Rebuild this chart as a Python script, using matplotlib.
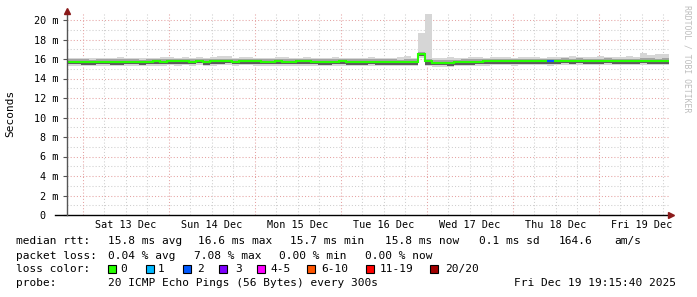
import matplotlib
matplotlib.use("Agg")
import matplotlib.pyplot as plt
import numpy as np

W, H = 697, 297
DPI = 100

# ---------------- data (2-hour blocks over 7 days) ----------------
block_hours = 2
first_midnight_h = 4.33          # hours from graph start to Sat 13 Dec 00:00
day_labels = ["Sat 13 Dec", "Sun 14 Dec", "Mon 15 Dec", "Tue 16 Dec",
              "Wed 17 Dec", "Thu 18 Dec", "Fri 19 Dec"]

median_ms = [
    15.70, 15.70, 15.72, 15.65, 15.70, 15.70, 15.68, 15.68, 15.70, 15.70, 15.65, 15.70,
    15.75, 15.70, 15.82, 15.75, 15.78, 15.72, 15.82, 15.68, 15.75, 15.78, 15.82, 15.72,
    15.78, 15.82, 15.75, 15.72, 15.70, 15.75, 15.72, 15.72, 15.75, 15.75, 15.72, 15.70,
    15.70, 15.72, 15.75, 15.70, 15.68, 15.70, 15.72, 15.70, 15.68, 15.70, 15.65, 15.68,
    15.68, 16.50, 15.75, 15.62, 15.62, 15.60, 15.65, 15.68, 15.68, 15.72, 15.75, 15.78,
    15.80, 15.78, 15.75, 15.82, 15.80, 15.78, 15.80, 15.75, 15.80, 15.82, 15.80, 15.82,
    15.80, 15.80, 15.78, 15.82, 15.80, 15.78, 15.80, 15.80, 15.82, 15.80, 15.78, 15.80,
]
ping_max_ms = [
    16.10, 16.15, 16.12, 16.15, 16.15, 16.10, 16.15, 16.20, 16.15, 16.12, 16.15, 16.10,
    16.15, 16.20, 16.25, 16.15, 16.20, 16.15, 16.25, 16.15, 16.20, 16.30, 16.35, 16.15,
    16.25, 16.20, 16.15, 16.15, 16.12, 16.20, 16.25, 16.15, 16.15, 16.20, 16.15, 16.12,
    16.15, 16.20, 16.15, 16.15, 16.12, 16.15, 16.20, 16.15, 16.12, 16.15, 16.20, 16.30,
    16.15, 18.70, 20.60, 16.10, 16.15, 16.20, 16.15, 16.15, 16.20, 16.25, 16.15, 16.20,
    16.25, 16.20, 16.15, 16.20, 16.25, 16.20, 16.15, 16.20, 16.25, 16.20, 16.30, 16.25,
    16.20, 16.25, 16.35, 16.20, 16.20, 16.25, 16.30, 16.25, 16.60, 16.45, 16.50, 16.50,
]
ping_min_ms = [
    15.30, 15.30, 15.25, 15.30, 15.30, 15.30, 15.25, 15.25, 15.30, 15.30, 15.25, 15.30,
    15.30, 15.30, 15.35, 15.30, 15.35, 15.30, 15.35, 15.25, 15.30, 15.35, 15.35, 15.30,
    15.35, 15.35, 15.30, 15.30, 15.30, 15.30, 15.30, 15.30, 15.30, 15.30, 15.30, 15.25,
    15.30, 15.30, 15.30, 15.30, 15.25, 15.30, 15.30, 15.30, 15.25, 15.30, 15.25, 15.25,
    15.25, 16.10, 15.25, 15.20, 15.20, 15.20, 15.25, 15.25, 15.25, 15.30, 15.30, 15.35,
    15.35, 15.35, 15.30, 15.35, 15.35, 15.35, 15.35, 15.30, 15.35, 15.35, 15.35, 15.35,
    15.35, 15.35, 15.35, 15.35, 15.35, 15.35, 15.35, 15.35, 15.35, 15.35, 15.35, 15.35,
]
ping_q_hi_ms = [
    15.95, 15.95, 15.97, 15.93, 15.95, 15.95, 15.95, 15.95, 15.95, 15.97, 15.93, 15.95,
    16.00, 15.97, 16.05, 16.00, 16.02, 15.97, 16.05, 15.95, 16.00, 16.02, 16.05, 15.97,
    16.02, 16.05, 16.00, 15.97, 15.97, 16.00, 15.97, 15.97, 16.00, 16.00, 15.97, 15.95,
    15.95, 15.97, 16.00, 15.95, 15.95, 15.95, 15.97, 15.95, 15.95, 15.95, 15.93, 15.95,
    15.95, 16.75, 16.05, 15.90, 15.90, 15.87, 15.93, 15.95, 15.95, 15.97, 16.00, 16.02,
    16.05, 16.02, 16.00, 16.05, 16.05, 16.02, 16.05, 16.00, 16.05, 16.07, 16.05, 16.07,
    16.05, 16.05, 16.02, 16.07, 16.05, 16.02, 16.05, 16.05, 16.10, 16.07, 16.05, 16.10,
]
ping_q_lo_ms = [
    15.45, 15.45, 15.43, 15.41, 15.45, 15.45, 15.43, 15.43, 15.45, 15.45, 15.41, 15.45,
    15.48, 15.45, 15.53, 15.48, 15.51, 15.45, 15.55, 15.43, 15.48, 15.51, 15.55, 15.45,
    15.51, 15.53, 15.48, 15.45, 15.45, 15.48, 15.45, 15.45, 15.48, 15.48, 15.45, 15.43,
    15.43, 15.45, 15.48, 15.43, 15.41, 15.43, 15.45, 15.43, 15.41, 15.43, 15.38, 15.41,
    15.41, 16.30, 15.40, 15.35, 15.35, 15.33, 15.38, 15.41, 15.41, 15.45, 15.48, 15.51,
    15.53, 15.51, 15.48, 15.53, 15.53, 15.51, 15.53, 15.48, 15.53, 15.55, 15.53, 15.55,
    15.53, 15.53, 15.51, 15.55, 15.53, 15.51, 15.53, 15.53, 15.55, 15.53, 15.51, 15.53,
]
loss_count = [
    0, 0, 0, 0, 0, 0, 0, 0, 0, 0, 0, 0,
    0, 0, 0, 0, 0, 0, 0, 0, 0, 0, 0, 0,
    0, 0, 0, 0, 0, 0, 0, 0, 0, 0, 0, 0,
    0, 0, 0, 0, 0, 0, 0, 0, 0, 0, 0, 0,
    0, 0, 0, 0, 0, 0, 0, 0, 0, 0, 0, 0,
    0, 0, 0, 0, 0, 0, 0, 2, 0, 0, 0, 0,
    0, 0, 0, 0, 0, 0, 0, 0, 0, 0, 0, 0,
]

loss_labels = ["0", "1", "2", "3", "4-5", "6-10", "11-19", "20/20"]
loss_colors = ["#26ff00", "#00b8ff", "#0059ff", "#7e00ff", "#ff00ff",
               "#ff5500", "#ff0000", "#a10000"]

stats_rtt = ["15.8 ms avg", "16.6 ms max", "15.7 ms min", "15.8 ms now",
             "0.1 ms sd", "164.6", "am/s"]
stats_loss = ["0.04 % avg", "7.08 % max", "0.00 % min", "0.00 % now"]
probe_text = "20 ICMP Echo Pings (56 Bytes) every 300s"
stamp_text = "Fri Dec 19 19:15:40 2025"

# ---------------- figure ----------------
MONO = "DejaVu Sans Mono"
fig = plt.figure(figsize=(W / DPI, H / DPI), dpi=DPI, facecolor="white")

def fx(px):
    return px / W

def fy(py):
    return 1 - py / H

ax_left, ax_right, ax_bottom, ax_top = 67, 669, 215, 12
ax = fig.add_axes([fx(ax_left), fy(ax_bottom), (ax_right - ax_left) / W,
                   (ax_bottom - ax_top) / H])
ax.set_facecolor("white")

n = len(median_ms)
edges = np.arange(n + 1) * block_hours
total_h = n * block_hours
ymax = (ax_bottom - ax_top) / 9.75
ax.set_xlim(0, total_h)
ax.set_ylim(0, ymax)

# grid
grid_red = "#e5a3a3"
grid_gray = "#cfcfcf"
dot = (0, (1, 2))
for v in range(1, 21):
    if v % 2 == 0:
        ax.axhline(v, color=grid_red, lw=0.75, ls=dot, zorder=1)
    else:
        ax.axhline(v, color=grid_gray, lw=0.75, ls=dot, zorder=1)
h = first_midnight_h - 24
while h < total_h:
    for q in range(4):
        xv = h + q * 6
        if 0 < xv < total_h:
            ax.axvline(xv, color=grid_red if q == 0 else grid_gray,
                       lw=0.75, ls=dot, zorder=1)
    h += 24

# smoke
ax.stairs(ping_max_ms, edges, baseline=ping_min_ms, fill=True,
          color="#d6d6d6", lw=0, zorder=2)
ax.stairs(ping_q_hi_ms, edges, baseline=ping_q_lo_ms, fill=True,
          color="#a4a4a4", lw=0, zorder=3)
ax.stairs(median_ms, edges, baseline=ping_q_lo_ms, fill=True,
          color="#5c5c5c", lw=0, zorder=3)

# median line coloured by loss
ax.stairs(median_ms, edges, baseline=None, color="#26ff00", lw=1.5, zorder=4)
for k in range(n):
    if loss_count[k] > 0:
        idx = loss_count[k] if loss_count[k] <= 3 else (4 if loss_count[k] <= 5 else 5)
        ax.hlines(median_ms[k], edges[k], edges[k + 1], color=loss_colors[idx],
                  lw=1.5, zorder=5)

# axes styling
for s in ax.spines.values():
    s.set_visible(False)
noon = [first_midnight_h + 12 + 24 * i for i in range(len(day_labels))]
ax.set_xticks(noon)
ax.set_xticklabels(day_labels, fontfamily=MONO, fontsize=7.3)
ax.tick_params(axis="x", length=0, pad=3.5)
yt = list(range(0, 21, 2))
ax.set_yticks(yt)
ax.set_yticklabels(["0  " if v == 0 else f"{v} m" for v in yt],
                   fontfamily=MONO, fontsize=7.3)
ax.tick_params(axis="y", length=3, width=0.8, color="#555555", pad=3)

# axis lines and arrows
ax.plot([-0.02, 1.0], [0, 0], transform=ax.transAxes, color="black", lw=1.0,
        clip_on=False, zorder=6)
ax.plot([0, 0], [0, 1.0], transform=ax.transAxes, color="#555555", lw=1.0,
        clip_on=False, zorder=6)
ax.plot([0], [1.005], transform=ax.transAxes, marker="^", color="#8b1a1a",
        ms=4.5, clip_on=False, zorder=7)
ax.plot([1.004], [0], transform=ax.transAxes, marker=">", color="#8b1a1a",
        ms=4.5, clip_on=False, zorder=7)

# y label and watermark
fig.text(fx(10), fy(113), "Seconds", rotation=90, ha="center", va="center",
         fontfamily=MONO, fontsize=8)
fig.text(fx(687), fy(5), "RRDTOOL / TOBI OETIKER", rotation=270, ha="center",
         va="top", fontfamily=MONO, fontsize=5.9, color="#bdbdbd")

# legend
fs = 8
def t(x, y, s, **kw):
    fig.text(fx(x), fy(y), s, ha="left", va="center", fontfamily=MONO,
             fontsize=fs, **kw)

row1, row2, row3, row4 = 241, 256, 269, 283
t(16, row1, "median rtt:")
for xpos, s in zip([107.7, 198.3, 290, 385, 479.3, 558.3, 614], stats_rtt):
    t(xpos, row1, s)
t(16, row2, "packet loss:")
for xpos, s in zip([107.7, 193.7, 279.3, 365], stats_loss):
    t(xpos, row2, s)
t(16, row3, "loss color:")
box_x = [108.3, 145.7, 182.7, 219.3, 256.7, 307.3, 365.7, 430]
lab_x = [120.7, 157.7, 197, 235, 270.3, 321.7, 380, 445]
for bx, lx, lab, col in zip(box_x, lab_x, loss_labels, loss_colors):
    fig.patches.append(plt.Rectangle((fx(bx), fy(row3 + 4)), 8 / W, 8 / H,
                                     transform=fig.transFigure, facecolor=col,
                                     edgecolor="black", lw=0.8))
    t(lx, row3, lab)
t(16, row4, "probe:")
t(107.7, row4, probe_text)
t(514, row4, stamp_text)

fig.savefig("out.png", dpi=DPI, facecolor="white")
